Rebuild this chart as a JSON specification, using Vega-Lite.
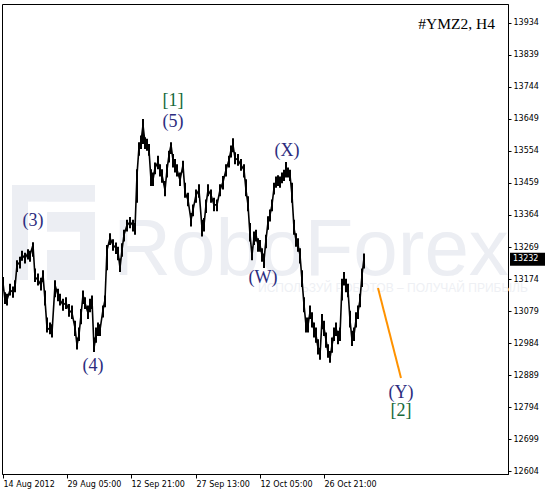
{
  "$schema": "https://vega.github.io/schema/vega-lite/v6.json",
  "width": 506,
  "height": 470,
  "autosize": {"type": "none"},
  "padding": {"left": 2, "top": 4, "right": 41, "bottom": 18},
  "background": "#ffffff",
  "config": {"view": {"stroke": "#000000", "strokeWidth": 1}},
  "datasets": {
    "bars": [
      {"i":3,"p":13162,"h":13180,"l":13140},{"i":5,"p":13112,"h":13135,"l":13100},{"i":7,"p":13112,"h":13130,"l":13095},
      {"i":10,"p":13141,"h":13160,"l":13125},{"i":13,"p":13135,"h":13152,"l":13118},{"i":15,"p":13150,"h":13170,"l":13135},
      {"i":17,"p":13216,"h":13230,"l":13195},{"i":20,"p":13224,"h":13240,"l":13205},{"i":22,"p":13245,"h":13258,"l":13228},
      {"i":25,"p":13236,"h":13252,"l":13220},{"i":28,"p":13251,"h":13262,"l":13232},{"i":30,"p":13245,"h":13258,"l":13225},
      {"i":33,"p":13275,"h":13283,"l":13240},{"i":35,"p":13180,"h":13205,"l":13165},{"i":38,"p":13171,"h":13190,"l":13155},
      {"i":41,"p":13156,"h":13178,"l":13140},{"i":43,"p":13186,"h":13200,"l":13165},{"i":45,"p":13112,"h":13140,"l":13095},
      {"i":47,"p":13029,"h":13060,"l":13015},{"i":50,"p":13023,"h":13045,"l":13010},{"i":52,"p":13014,"h":13040,"l":13000},
      {"i":55,"p":13156,"h":13170,"l":13120},{"i":58,"p":13126,"h":13145,"l":13108},{"i":60,"p":13112,"h":13130,"l":13095},
      {"i":63,"p":13097,"h":13115,"l":13080},{"i":66,"p":13103,"h":13120,"l":13085},{"i":69,"p":13082,"h":13100,"l":13062},
      {"i":72,"p":13073,"h":13095,"l":13055},{"i":75,"p":13029,"h":13050,"l":13005},{"i":77,"p":12978,"h":13000,"l":12965},
      {"i":79,"p":13008,"h":13030,"l":12990},{"i":81,"p":13067,"h":13085,"l":13040},{"i":83,"p":13126,"h":13140,"l":13100},
      {"i":85,"p":13103,"h":13120,"l":13085},{"i":88,"p":13073,"h":13095,"l":13055},{"i":90,"p":13097,"h":13115,"l":13075},
      {"i":92,"p":13112,"h":13125,"l":13085},{"i":94,"p":12969,"h":13000,"l":12957},{"i":96,"p":13008,"h":13030,"l":12985},
      {"i":98,"p":13029,"h":13045,"l":13005},{"i":100,"p":13023,"h":13040,"l":13005},{"i":103,"p":13082,"h":13095,"l":13060},
      {"i":105,"p":13112,"h":13125,"l":13090},{"i":107,"p":13260,"h":13275,"l":13200},{"i":110,"p":13296,"h":13310,"l":13275},
      {"i":113,"p":13275,"h":13292,"l":13258},{"i":116,"p":13266,"h":13282,"l":13248},{"i":118,"p":13254,"h":13270,"l":13230},
      {"i":120,"p":13207,"h":13235,"l":13195},{"i":122,"p":13260,"h":13280,"l":13240},{"i":124,"p":13305,"h":13320,"l":13285},
      {"i":127,"p":13334,"h":13350,"l":13315},{"i":130,"p":13343,"h":13358,"l":13325},{"i":133,"p":13334,"h":13350,"l":13315},
      {"i":135,"p":13325,"h":13340,"l":13305},{"i":137,"p":13483,"h":13500,"l":13400},{"i":139,"p":13566,"h":13580,"l":13540},
      {"i":141,"p":13581,"h":13600,"l":13560},{"i":143,"p":13631,"h":13649,"l":13575},{"i":145,"p":13578,"h":13595,"l":13560},
      {"i":147,"p":13572,"h":13590,"l":13555},{"i":149,"p":13557,"h":13575,"l":13540},{"i":151,"p":13468,"h":13500,"l":13450},
      {"i":153,"p":13468,"h":13490,"l":13450},{"i":155,"p":13504,"h":13520,"l":13485},{"i":158,"p":13521,"h":13540,"l":13500},
      {"i":160,"p":13498,"h":13515,"l":13478},{"i":162,"p":13483,"h":13500,"l":13460},{"i":165,"p":13438,"h":13465,"l":13420},
      {"i":167,"p":13498,"h":13515,"l":13475},{"i":169,"p":13542,"h":13555,"l":13520},{"i":171,"p":13572,"h":13580,"l":13545},
      {"i":173,"p":13527,"h":13545,"l":13505},{"i":175,"p":13512,"h":13530,"l":13490},{"i":177,"p":13498,"h":13515,"l":13478},
      {"i":180,"p":13468,"h":13490,"l":13450},{"i":183,"p":13512,"h":13525,"l":13490},{"i":185,"p":13432,"h":13460,"l":13415},
      {"i":188,"p":13409,"h":13430,"l":13390},{"i":191,"p":13349,"h":13370,"l":13330},{"i":193,"p":13379,"h":13395,"l":13360},
      {"i":196,"p":13423,"h":13440,"l":13400},{"i":199,"p":13438,"h":13455,"l":13415},{"i":202,"p":13325,"h":13350,"l":13300},
      {"i":204,"p":13334,"h":13355,"l":13315},{"i":206,"p":13394,"h":13410,"l":13370},{"i":208,"p":13438,"h":13455,"l":13420},
      {"i":211,"p":13423,"h":13440,"l":13400},{"i":214,"p":13394,"h":13415,"l":13375},{"i":217,"p":13394,"h":13410,"l":13375},
      {"i":220,"p":13438,"h":13455,"l":13420},{"i":223,"p":13462,"h":13480,"l":13440},{"i":226,"p":13498,"h":13515,"l":13478},
      {"i":229,"p":13527,"h":13540,"l":13505},{"i":231,"p":13557,"h":13570,"l":13535},{"i":233,"p":13572,"h":13592,"l":13550},
      {"i":235,"p":13533,"h":13550,"l":13515},{"i":238,"p":13527,"h":13545,"l":13510},{"i":241,"p":13512,"h":13530,"l":13495},
      {"i":244,"p":13498,"h":13515,"l":13475},{"i":246,"p":13438,"h":13470,"l":13420},{"i":248,"p":13394,"h":13420,"l":13375},
      {"i":250,"p":13305,"h":13340,"l":13285},{"i":252,"p":13245,"h":13270,"l":13230},{"i":254,"p":13296,"h":13315,"l":13275},
      {"i":256,"p":13305,"h":13320,"l":13285},{"i":258,"p":13275,"h":13295,"l":13255},{"i":260,"p":13275,"h":13290,"l":13255},
      {"i":262,"p":13245,"h":13265,"l":13225},{"i":264,"p":13230,"h":13250,"l":13207},{"i":266,"p":13290,"h":13305,"l":13265},
      {"i":268,"p":13343,"h":13360,"l":13320},{"i":270,"p":13364,"h":13380,"l":13345},{"i":272,"p":13394,"h":13410,"l":13375},
      {"i":274,"p":13444,"h":13460,"l":13425},{"i":276,"p":13462,"h":13478,"l":13445},{"i":278,"p":13468,"h":13482,"l":13450},
      {"i":280,"p":13462,"h":13478,"l":13445},{"i":282,"p":13474,"h":13490,"l":13458},{"i":284,"p":13483,"h":13498,"l":13465},
      {"i":286,"p":13492,"h":13521,"l":13475},{"i":288,"p":13492,"h":13505,"l":13475},{"i":290,"p":13483,"h":13498,"l":13465},
      {"i":292,"p":13423,"h":13460,"l":13400},{"i":294,"p":13325,"h":13350,"l":13305},{"i":296,"p":13290,"h":13310,"l":13270},
      {"i":298,"p":13275,"h":13295,"l":13255},{"i":300,"p":13245,"h":13265,"l":13220},{"i":302,"p":13171,"h":13200,"l":13150},
      {"i":304,"p":13097,"h":13120,"l":13075},{"i":306,"p":13037,"h":13060,"l":13015},{"i":308,"p":13037,"h":13060,"l":13015},
      {"i":310,"p":13076,"h":13095,"l":13055},{"i":312,"p":13052,"h":13075,"l":13030},{"i":314,"p":13023,"h":13045,"l":13000},
      {"i":316,"p":13008,"h":13030,"l":12985},{"i":318,"p":12969,"h":12995,"l":12950},{"i":320,"p":12948,"h":12970,"l":12934},
      {"i":322,"p":13052,"h":13070,"l":13025},{"i":324,"p":13029,"h":13050,"l":13005},{"i":326,"p":12993,"h":13015,"l":12970},
      {"i":328,"p":12957,"h":12980,"l":12940},{"i":330,"p":12939,"h":12960,"l":12925},{"i":332,"p":12978,"h":13000,"l":12955},
      {"i":334,"p":13008,"h":13030,"l":12990},{"i":336,"p":13029,"h":13045,"l":13005},{"i":338,"p":12999,"h":13020,"l":12980},
      {"i":340,"p":13008,"h":13030,"l":12990},{"i":342,"p":13156,"h":13175,"l":13110},{"i":344,"p":13177,"h":13195,"l":13155},
      {"i":346,"p":13156,"h":13175,"l":13135},{"i":348,"p":13141,"h":13160,"l":13120},{"i":350,"p":13052,"h":13080,"l":13030},
      {"i":352,"p":12993,"h":13020,"l":12975},{"i":354,"p":13008,"h":13030,"l":12990},{"i":356,"p":13052,"h":13075,"l":13030},
      {"i":358,"p":13076,"h":13095,"l":13055},{"i":360,"p":13112,"h":13130,"l":13090},{"i":362,"p":13186,"h":13205,"l":13150},
      {"i":364,"p":13236,"h":13250,"l":13205}
    ],
    "proj": [{"i":378,"p":13147},{"i":401,"p":12880}],
    "labels": [
      {"t":"[1]","i":173,"p":13703,"k":"major"},
      {"t":"(5)","i":173,"p":13640,"k":"minor"},
      {"t":"(3)","i":33,"p":13346,"k":"minor"},
      {"t":"(4)","i":93,"p":12916,"k":"minor"},
      {"t":"(W)","i":263,"p":13177,"k":"minor"},
      {"t":"(X)","i":287,"p":13554,"k":"minor"},
      {"t":"(Y)","i":401,"p":12836,"k":"minor"},
      {"t":"[2]","i":401,"p":12782,"k":"major"}
    ],
    "wm": [
      {"t":"RoboForex","i":311,"p":13186,"k":"logo"},
      {"t":"ИСПОЛЬЗУЙ РОБОТОВ – ПОЛУЧАЙ ПРИБЫЛЬ","i":258,"p":13147,"k":"slogan"}
    ],
    "icon": [
      {"i":12,"i2":95,"p":13453,"p2":13171,"k":"fill"},
      {"i":28,"i2":47,"p":13403,"p2":13171,"k":"cut"},
      {"i":28,"i2":95,"p":13403,"p2":13373,"k":"cut"},
      {"i":47,"i2":80,"p":13314,"p2":13260,"k":"cut"}
    ],
    "tag": [{"t":"13232","i":510,"i2":545,"p":13232,"hi":13252,"lo":13213,"ti":513}]
  },
  "encoding": {
    "x": {"field": "i", "type": "quantitative", "scale": {"domain": [2, 508], "nice": false, "zero": false},
      "axis": {"orient": "bottom", "title": null, "grid": false, "values": [3, 67, 131, 196, 260, 324],
        "labelExpr": "datum.value == 3 ? '14 Aug 2012' : datum.value == 67 ? '29 Aug 05:00' : datum.value == 131 ? '12 Sep 21:00' : datum.value == 196 ? '27 Sep 13:00' : datum.value == 260 ? '12 Oct 05:00' : '26 Oct 21:00'",
        "labelAlign": "left", "labelBaseline": "top", "labelPadding": 2, "labelFont": "DejaVu Sans", "labelFontSize": 8, "labelColor": "#000000",
        "tickColor": "#000000", "tickSize": 4, "domainColor": "#000000", "labelOverlap": false, "labelFlush": false}},
    "y": {"field": "p", "type": "quantitative", "scale": {"domain": [12595.1, 13990.4], "nice": false, "zero": false},
      "axis": {"orient": "right", "title": null, "grid": false,
        "values": [12604, 12699, 12794, 12889, 12984, 13079, 13174, 13269, 13364, 13459, 13554, 13649, 13744, 13839, 13934],
        "labelAlign": "left", "labelBaseline": "middle", "labelPadding": 2, "labelFont": "DejaVu Sans", "labelFontSize": 8, "labelColor": "#000000",
        "tickColor": "#000000", "tickSize": 3, "domainColor": "#000000", "labelOverlap": false, "labelFlush": false, "format": "d"}}
  },
  "layer": [
    {
      "data": {"name": "icon"},
      "transform": [{"filter": "datum.k == 'fill'"}],
      "mark": {"type": "rect", "color": "#eceef3"},
      "encoding": {"x2": {"field": "i2"}, "y2": {"field": "p2"}}
    },
    {
      "data": {"name": "icon"},
      "transform": [{"filter": "datum.k == 'cut'"}],
      "mark": {"type": "rect", "color": "#ffffff"},
      "encoding": {"x2": {"field": "i2"}, "y2": {"field": "p2"}}
    },
    {
      "data": {"name": "wm"},
      "transform": [{"filter": "datum.k == 'logo'"}],
      "mark": {"type": "text", "font": "Liberation Sans", "fontSize": 80, "color": "#eceef3", "align": "center", "baseline": "alphabetic"},
      "encoding": {"text": {"field": "t"}}
    },
    {
      "data": {"name": "wm"},
      "transform": [{"filter": "datum.k == 'slogan'"}],
      "mark": {"type": "text", "font": "Liberation Sans", "fontSize": 12, "color": "#eef0f4", "align": "left", "baseline": "middle"},
      "encoding": {"text": {"field": "t"}}
    },
    {
      "data": {"name": "bars"},
      "mark": {"type": "rule", "color": "#000000", "strokeWidth": 2},
      "encoding": {
        "y": {"field": "l", "type": "quantitative", "scale": {"domain": [12595.1, 13990.4], "nice": false, "zero": false},
          "axis": {"orient": "right", "title": null, "grid": false,
            "values": [12604, 12699, 12794, 12889, 12984, 13079, 13174, 13269, 13364, 13459, 13554, 13649, 13744, 13839, 13934],
            "labelAlign": "left", "labelBaseline": "middle", "labelPadding": 2, "labelFont": "DejaVu Sans", "labelFontSize": 8, "labelColor": "#000000",
            "tickColor": "#000000", "tickSize": 3, "domainColor": "#000000", "labelOverlap": false, "labelFlush": false, "format": "d"}},
        "y2": {"field": "h"}
      }
    },
    {
      "data": {"name": "bars"},
      "mark": {"type": "line", "color": "#000000", "strokeWidth": 1.6, "interpolate": "linear"}
    },
    {
      "data": {"name": "proj"},
      "mark": {"type": "line", "color": "#ff9200", "strokeWidth": 2}
    },
    {
      "data": {"name": "labels"},
      "transform": [{"filter": "datum.k == 'minor'"}],
      "mark": {"type": "text", "font": "Liberation Serif", "fontSize": 18, "align": "center", "baseline": "middle", "color": "#2c2c7e"},
      "encoding": {"text": {"field": "t"}}
    },
    {
      "data": {"name": "labels"},
      "transform": [{"filter": "datum.k == 'major'"}],
      "mark": {"type": "text", "font": "Liberation Serif", "fontSize": 18, "align": "center", "baseline": "middle", "color": "#16693a"},
      "encoding": {"text": {"field": "t"}}
    },
    {
      "data": {"values": [{"t": "#YMZ2, H4", "i": 495, "p": 13931}]},
      "mark": {"type": "text", "font": "Liberation Serif", "fontSize": 15.5, "align": "right", "baseline": "middle", "color": "#000000"},
      "encoding": {"text": {"field": "t"}}
    },
    {
      "data": {"name": "tag"},
      "mark": {"type": "rect", "color": "#000000", "clip": false},
      "encoding": {
        "x2": {"field": "i2"},
        "y": {"field": "hi", "type": "quantitative", "scale": {"domain": [12595.1, 13990.4], "nice": false, "zero": false},
          "axis": {"orient": "right", "title": null, "grid": false,
            "values": [12604, 12699, 12794, 12889, 12984, 13079, 13174, 13269, 13364, 13459, 13554, 13649, 13744, 13839, 13934],
            "labelAlign": "left", "labelBaseline": "middle", "labelPadding": 2, "labelFont": "DejaVu Sans", "labelFontSize": 8, "labelColor": "#000000",
            "tickColor": "#000000", "tickSize": 3, "domainColor": "#000000", "labelOverlap": false, "labelFlush": false, "format": "d"}},
        "y2": {"field": "lo"}
      }
    },
    {
      "data": {"name": "tag"},
      "mark": {"type": "text", "font": "DejaVu Sans", "fontSize": 8, "align": "left", "baseline": "middle", "color": "#ffffff", "clip": false},
      "encoding": {
        "x": {"field": "ti", "type": "quantitative", "scale": {"domain": [2, 508], "nice": false, "zero": false},
          "axis": {"orient": "bottom", "title": null, "grid": false, "values": [3, 67, 131, 196, 260, 324],
            "labelExpr": "datum.value == 3 ? '14 Aug 2012' : datum.value == 67 ? '29 Aug 05:00' : datum.value == 131 ? '12 Sep 21:00' : datum.value == 196 ? '27 Sep 13:00' : datum.value == 260 ? '12 Oct 05:00' : '26 Oct 21:00'",
            "labelAlign": "left", "labelBaseline": "top", "labelPadding": 2, "labelFont": "DejaVu Sans", "labelFontSize": 8, "labelColor": "#000000",
            "tickColor": "#000000", "tickSize": 4, "domainColor": "#000000", "labelOverlap": false, "labelFlush": false}},
        "text": {"field": "t"}
      }
    }
  ]
}
